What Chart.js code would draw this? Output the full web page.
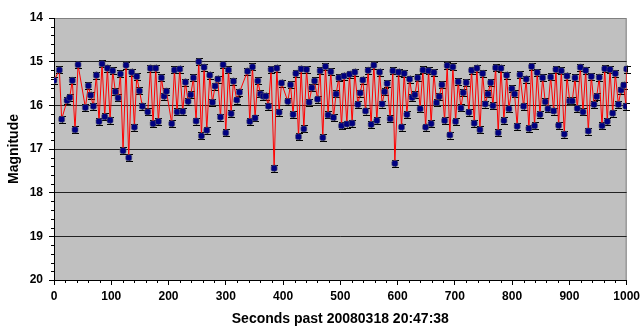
<!DOCTYPE html>
<html>
<head>
<meta charset="utf-8">
<script src="https://cdn.jsdelivr.net/npm/chart.js@4"></script>
<style>
  html, body { margin: 0; padding: 0; background: #fff; }
</style>
</head>
<body>
<canvas id="chart" width="644" height="329"></canvas>
<script>
// time since start (s) and measured magnitude for each frame
const seconds = [
  0, 9.4, 13.4, 22.8, 27.4, 32, 36.7, 42, 54.8, 60, 64, 68.8, 74, 78.6, 83.9, 88.6, 93.3, 97.9,
  102.5, 107.2, 111.9, 116, 120.6, 125.8, 130.5, 135.7, 140.4, 144.5, 149.2, 154.4, 163.7, 168.4,
  173, 177.7, 182.3, 187.6, 192.2, 196.4, 205.6, 210.3, 214.9, 219.6, 224.8, 229.5, 234.1, 238.8,
  243.5, 248.1, 252.8, 257.5, 262.1, 266.8, 272, 276.7, 281.3, 286, 290.7, 295.3, 300, 304.7,
  309.3, 313.4, 319.2, 323.9, 337.9, 341.9, 346.6, 351.1, 355.9, 360.6, 365.2, 369.9, 374.5,
  379.1, 384.4, 389.1, 393.1, 397.3, 408.3, 413, 417.5, 422.3, 427, 431.6, 436.3, 441, 445.5,
  450.3, 455, 460.2, 464.7, 469.4, 474.1, 478.6, 483.4, 488.1, 492.6, 497.4, 502.1, 506.6, 511.4,
  516.1, 520.6, 525.3, 530.6, 534.6, 539.3, 544, 548.5, 553.8, 558.5, 563.8, 568.5, 573, 577.2,
  581.8, 587, 591.7, 595.2, 601.7, 606.9, 611.5, 616.3, 621, 625.5, 630.2, 634.9, 639.4, 644.2,
  648.9, 654.1, 658.6, 663.4, 668.1, 672.6, 677.4, 682.1, 686.6, 691.3, 696.6, 701.3, 705.8,
  710.6, 714.6, 719.8, 724.5, 729.2, 733.8, 738.5, 743.8, 748.5, 753.1, 757.8, 762.5, 766.5,
  771.2, 775.7, 780.5, 785.7, 790.4, 794.4, 799.6, 804.3, 808.8, 813.6, 820, 824.6, 829.3, 834,
  839.2, 843.8, 848.6, 853.3, 857.8, 862.5, 867.3, 872.5, 876.5, 881.2, 885.9, 891.1, 895.8,
  900.5, 905, 909.8, 913.8, 919.1, 923.8, 928.5, 933, 938.3, 943, 947.7, 952.2, 957, 961.7,
  966.2, 970.9, 975.6, 980.2, 985.5, 990.2, 994.8, 998.8, 1000
];
const magnitudes = [
  15.43, 15.19, 16.32, 15.89, 15.82, 15.43, 16.56, 15.07, 16.05, 15.55, 15.77, 16.02, 15.31, 16.37, 15.05, 16.26, 15.15, 16.34,
  15.21, 15.69, 15.83, 15.28, 17.04, 15.08, 17.2, 15.24, 16.5, 15.34, 15.67, 16.02, 16.15, 15.15,
  16.42, 15.15, 16.37, 15.37, 15.79, 15.68, 16.42, 15.19, 16.15, 15.17, 16.14, 15.47, 15.91, 15.76,
  15.37, 16.36, 15.0, 16.7, 15.13, 16.57, 15.31, 15.93, 15.56, 15.4, 16.27, 15.07, 16.63, 15.19,
  16.19, 15.45, 15.88, 15.7, 15.22, 16.37, 15.12, 16.29, 15.44, 15.74, 15.79, 15.79, 16.02,
  15.18, 17.44, 15.15, 16.16, 15.49, 15.91, 15.53, 16.21, 15.27, 16.72, 15.17, 16.54, 15.18, 15.93,
  15.6, 15.44, 15.86, 15.21, 16.74, 15.11, 16.22, 15.23, 16.28, 15.74, 15.37, 16.47, 15.33, 16.43,
  15.29, 16.41, 15.24, 15.98, 15.72, 15.42, 16.13, 15.2, 16.44, 15.08, 16.35, 15.24, 15.97, 15.69,
  15.5, 16.31, 15.21, 17.33, 15.24, 16.5, 15.27, 16.21, 15.4, 15.82, 15.76, 15.37, 16.08, 15.19,
  16.5, 15.21, 16.42, 15.25, 15.94, 15.8, 15.53, 16.35, 15.09, 16.68, 15.12, 16.37, 15.46,
  16.06, 15.71, 15.48, 16.16, 15.2, 16.41, 15.15, 16.56, 15.27, 15.97, 15.74, 15.48, 16.01,
  15.14, 16.63, 15.15, 16.35, 15.31, 16.08, 15.62, 15.74, 16.48, 15.3, 16.02, 15.4, 16.53, 15.11,
  16.47, 15.25, 16.21, 15.37, 15.92, 16.08, 15.35, 16.13, 15.18, 16.46, 15.21, 16.66, 15.33,
  15.9, 15.9, 15.37, 16.07, 15.13, 16.15, 15.2, 16.59, 15.34, 15.98, 15.8, 15.36, 16.47, 15.16,
  16.37, 15.18, 16.18, 15.27, 15.98, 15.65, 15.54, 16.02, 15.17
];
const magError = 0.08;

const xTickLabels = [0, 100, 200, 300, 400, 500, 600, 700, 800, 900, 1000];
const yTickLabels = [14, 15, 16, 17, 18, 19, 20];

const points = seconds.map((s, i) => ({ x: s, y: magnitudes[i] }));

// grey plot area with a thin frame
const plotFrame = {
  id: "plotFrame",
  beforeDraw(chart) {
    const { ctx, chartArea: a } = chart;
    ctx.save();
    ctx.fillStyle = "#c0c0c0";
    ctx.fillRect(a.left, a.top, a.width, a.height);
    ctx.strokeStyle = "#808080";
    ctx.lineWidth = 1;
    ctx.strokeRect(a.left + 0.5, a.top + 0.5, a.width - 1, a.height);
    ctx.restore();
  }
};

// short minor tick marks between the labelled ones
const minorTicks = {
  id: "minorTicks",
  afterDraw(chart) {
    const { ctx, scales: { x, y }, chartArea: a } = chart;
    ctx.save();
    ctx.strokeStyle = "#000";
    ctx.lineWidth = 1;
    ctx.beginPath();
    for (let v = 0; v <= 1000; v += 20) {
      if (v % 100 === 0) continue;
      const px = Math.round(x.getPixelForValue(v)) + 0.5;
      ctx.moveTo(px, a.bottom);
      ctx.lineTo(px, a.bottom + 3);
    }
    for (let k = 0; k <= 30; k++) {
      if (k % 5 === 0) continue;
      const py = Math.round(y.getPixelForValue(14 + k * 0.2)) + 0.5;
      ctx.moveTo(a.left, py);
      ctx.lineTo(a.left - 3, py);
    }
    ctx.stroke();
    ctx.restore();
  }
};

// vertical error bars with caps, drawn under line and markers
const errorBars = {
  id: "errorBars",
  beforeDatasetsDraw(chart) {
    const { ctx, scales: { y } } = chart;
    const meta = chart.getDatasetMeta(0);
    ctx.save();
    ctx.strokeStyle = "#000";
    ctx.lineWidth = 1;
    ctx.beginPath();
    meta.data.forEach((pt, i) => {
      const top = y.getPixelForValue(magnitudes[i] - magError);
      const bot = y.getPixelForValue(magnitudes[i] + magError);
      const px = Math.round(pt.x) + 0.5;
      ctx.moveTo(px, top); ctx.lineTo(px, bot);
      ctx.moveTo(px - 3.5, Math.round(top) + 0.5); ctx.lineTo(px + 3.5, Math.round(top) + 0.5);
      ctx.moveTo(px - 3.5, Math.round(bot) + 0.5); ctx.lineTo(px + 3.5, Math.round(bot) + 0.5);
    });
    ctx.stroke();
    ctx.restore();
  }
};

const tickFont = { family: "Arial, 'Liberation Sans'", size: 12, weight: "bold" };
const titleFont = { family: "Arial, 'Liberation Sans'", size: 14, weight: "bold" };

new Chart(document.getElementById("chart").getContext("2d"), {
  type: "line",
  data: {
    datasets: [{
      data: points,
      borderColor: "#ff0000",
      borderWidth: 1,
      pointStyle: "rectRounded",
      pointRadius: 3.5,
      pointBackgroundColor: "#000080",
      pointBorderColor: "rgba(90,90,110,0.55)",
      pointBorderWidth: 1,
      tension: 0
    }]
  },
  options: {
    responsive: false,
    animation: false,
    layout: { padding: { top: 18, right: 17, left: 0, bottom: 0 } },
    plugins: {
      legend: { display: false },
      tooltip: { enabled: false }
    },
    scales: {
      x: {
        type: "linear",
        min: 0,
        max: 1000,
        afterBuildTicks: s => { s.ticks = xTickLabels.map(v => ({ value: v })); },
        afterFit: s => { s.height = 49; },
        ticks: { font: tickFont, color: "#000", padding: 4, maxRotation: 0, callback: v => String(v) },
        grid: { drawOnChartArea: false, tickLength: 5, tickColor: "#000" },
        border: { color: "#000", width: 1 },
        title: {
          display: true,
          text: "Seconds past 20080318 20:47:38",
          font: titleFont,
          color: "#000",
          padding: { top: 2, bottom: 1 }
        }
      },
      y: {
        reverse: true,
        min: 14,
        max: 20,
        afterBuildTicks: s => { s.ticks = yTickLabels.map(v => ({ value: v })); },
        afterFit: s => { s.width = 54; },
        ticks: { font: tickFont, color: "#000", padding: 6, callback: v => String(v) },
        grid: {
          tickLength: 5,
          tickColor: "#000",
          color: c => (c.tick && c.tick.value > 14 && c.tick.value < 20) ? "#222" : "rgba(0,0,0,0)"
        },
        border: { color: "#000", width: 1 },
        title: {
          display: true,
          text: "Magnitude",
          font: titleFont,
          color: "#000",
          padding: { top: 6, bottom: 0 }
        }
      }
    }
  },
  plugins: [plotFrame, errorBars, minorTicks]
});
</script>
</body>
</html>
